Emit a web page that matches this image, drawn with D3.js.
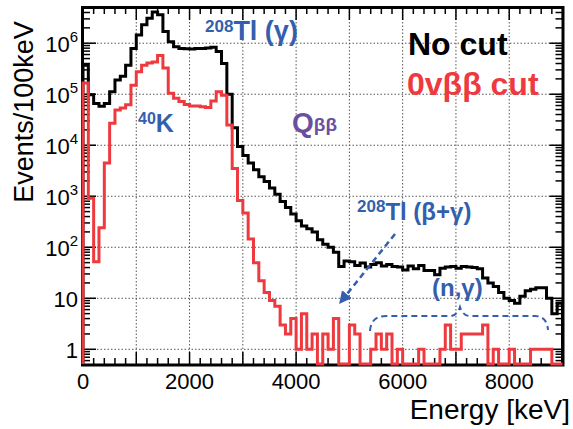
<!DOCTYPE html>
<html>
<head>
<meta charset="utf-8">
<script src="https://cdn.jsdelivr.net/npm/d3@7"></script>
<style>
  body { margin: 0; background: #fff; }
  svg { display: block; font-family: "Liberation Sans", Arial, sans-serif; }
</style>
</head>
<body>
<svg id="chart" width="573" height="429"></svg>
<script>
// histogram contents, 100 keV bins from 0 to 9000 keV
const binWidth = 100;
const noCut = [
  370000, 98000, 66000, 58000, 66000, 112000, 190000, 224000, 370000, 790000,
  1450000, 2300000, 3100000, 4100000, 3600000, 1700000, 1070000, 850000, 790000, 780000,
  770000, 790000, 790000, 810000, 830000, 690000, 400000, 100000, 22000, 9500,
  6300, 4500, 3300, 2400, 1950, 1450, 1100, 790, 600, 450,
  330, 260, 230, 200, 140, 115, 100, 80, 42, 54,
  52, 44, 49, 41, 46, 50, 43, 46, 42, 41,
  36, 43, 38, 44, 35, 35, 29, 39, 41, 42,
  39, 42, 41, 40, 38, 25, 20, 17, 13, 10,
  9, 8, 11, 14, 15, 16, 16, 10, 5, 8
];
const bbCut = [
  166000, 910, 52, 240, 4500, 27000, 49000, 54000, 62000, 150000,
  275000, 370000, 410000, 430000, 575000, 325000, 105000, 83000, 72000, 63000,
  59000, 59000, 57000, 55000, 74000, 112000, 95000, 25000, 3500, 830,
  470, 145, 50, 22, 13, 9, 7, 3, 2, 4,
  1, 5, 1, 2, 0, 2, 1, 4, 0, 0,
  3, 2, 0, 0, 1, 2, 1, 2, 0, 1,
  0, 0, 0, 1, 0, 0, 0, 1, 3, 1,
  1, 2, 2, 2, 2, 3, 0, 1, 0, 0,
  1, 0, 0, 0, 1, 1, 1, 1, 0, 0
];
const xTickLabels = [0, 2000, 4000, 6000, 8000];
const yDecades = [1, 10, 100, 1e3, 1e4, 1e5, 1e6];
const yDecadeLabels = [["1", ""], ["10", ""], ["10", "2"], ["10", "3"], ["10", "4"], ["10", "5"], ["10", "6"]];

const svg = d3.select("#chart");
const L = 83, R = 562.5, T = 8, B = 364;
const yMin = 0.515, yMax = 4.9e6;
const x = d3.scaleLinear().domain([0, 9000]).range([L, R]);
const y = d3.scaleLog().domain([yMin, yMax]).range([B, T]);

const blue = "#335fae";
const red = "#ee3a3f";

// grid
const grid = svg.append("g").attr("stroke", "#555").attr("stroke-width", 1).attr("stroke-dasharray", "1.5,2");
grid.selectAll(".gx").data(d3.range(1000, 9000, 1000)).enter().append("line")
  .attr("x1", d => x(d)).attr("x2", d => x(d)).attr("y1", T).attr("y2", B);
grid.selectAll(".gy").data(yDecades).enter().append("line")
  .attr("x1", L).attr("x2", R).attr("y1", d => y(d)).attr("y2", d => y(d));

// frame
svg.append("rect").attr("x", L - 0.5).attr("y", T - 0.5).attr("width", R - L + 1).attr("height", B - T + 1.5)
  .attr("fill", "none").attr("stroke", "#000").attr("stroke-width", 3);

// ticks
const ticks = svg.append("g").attr("stroke", "#000").attr("stroke-width", 1.5);
const xMinor = d3.range(0, 9001, 200);
ticks.selectAll(".xb").data(xMinor).enter().append("line")
  .attr("x1", d => x(d)).attr("x2", d => x(d))
  .attr("y1", B).attr("y2", d => B - (d % 1000 === 0 ? 12 : 6));
ticks.selectAll(".xt").data(xMinor).enter().append("line")
  .attr("x1", d => x(d)).attr("x2", d => x(d))
  .attr("y1", T).attr("y2", d => T + (d % 1000 === 0 ? 12 : 6));

const yMinor = [];
[0.1, 1, 10, 100, 1e3, 1e4, 1e5, 1e6].forEach(dec => {
  for (let k = 2; k <= 9; k++) {
    const v = k * dec;
    if (v > yMin && v < yMax) yMinor.push(v);
  }
});
ticks.selectAll(".yl").data(yMinor).enter().append("line")
  .attr("x1", L).attr("x2", L + 7).attr("y1", d => y(d)).attr("y2", d => y(d));
ticks.selectAll(".yr").data(yMinor).enter().append("line")
  .attr("x1", R).attr("x2", R - 7).attr("y1", d => y(d)).attr("y2", d => y(d));
ticks.selectAll(".ylM").data(yDecades).enter().append("line")
  .attr("x1", L).attr("x2", L + 13).attr("y1", d => y(d)).attr("y2", d => y(d));
ticks.selectAll(".yrM").data(yDecades).enter().append("line")
  .attr("x1", R).attr("x2", R - 13).attr("y1", d => y(d)).attr("y2", d => y(d));

// histograms
function histPoints(vals) {
  const pts = [[0, yMin]];
  vals.forEach((v, i) => pts.push([i * binWidth, Math.max(v, yMin)]));
  pts.push([vals.length * binWidth, Math.max(vals[vals.length - 1], yMin)]);
  pts.push([vals.length * binWidth, yMin]);
  return pts;
}
const step = d3.line().x(d => x(d[0])).y(d => y(d[1])).curve(d3.curveStepAfter);

svg.append("path").attr("d", step(histPoints(noCut)))
  .attr("fill", "none").attr("stroke", "#000").attr("stroke-width", 3);
svg.append("path").attr("d", step(histPoints(bbCut)))
  .attr("fill", "none").attr("stroke", red).attr("stroke-width", 3);

// axis labels
svg.selectAll(".xl").data(xTickLabels).enter().append("text")
  .attr("x", d => x(d)).attr("y", 389).attr("text-anchor", "middle")
  .attr("font-size", 22).text(d => d);

const yl = svg.selectAll(".ylab").data(yDecades).enter().append("text")
  .attr("x", 78).attr("y", d => y(d) + 9).attr("text-anchor", "end").attr("font-size", 22);
yl.append("tspan").text((d, i) => yDecadeLabels[i][0]);
yl.append("tspan").attr("font-size", 15).attr("dy", -10).text((d, i) => yDecadeLabels[i][1]);

svg.append("text").attr("x", 570).attr("y", 419).attr("text-anchor", "end")
  .attr("font-size", 28).text("Energy [keV]");
svg.append("text").attr("transform", "translate(33,112) rotate(-90)").attr("text-anchor", "middle")
  .attr("font-size", 27).text("Events/100keV");

// legend text
svg.append("text").attr("x", 408).attr("y", 55).attr("font-size", 32).attr("font-weight", "bold")
  .attr("fill", "#000").text("No cut");
svg.append("text").attr("x", 407).attr("y", 95).attr("font-size", 32).attr("font-weight", "bold")
  .attr("fill", red).text("0vββ cut");

// annotations
function isotope(xp, yp, mass, rest, size, supSize) {
  const t = svg.append("text").attr("x", xp).attr("y", yp).attr("font-weight", "bold").attr("fill", blue);
  t.append("tspan").attr("font-size", supSize).attr("dy", -8).text(mass);
  t.append("tspan").attr("font-size", size).attr("dy", 8).text(rest);
}
isotope(205, 40, "208", "Tl (γ)", 27, 17);
isotope(357, 220, "208", "Tl (β+γ)", 24, 17);
isotope(138, 132, "40", "K", 25, 16);

const q = svg.append("text").attr("x", 292).attr("y", 132).attr("font-weight", "bold").attr("fill", "#6a4f9e");
q.append("tspan").attr("font-size", 28).text("Q");
q.append("tspan").attr("font-size", 19).attr("dy", -1).text("ββ");

svg.append("text").attr("x", 432).attr("y", 296).attr("font-size", 24).attr("font-weight", "bold")
  .attr("fill", blue).text("(n,γ)");

// dashed arrow towards the tail
svg.append("defs").append("marker").attr("id", "head").attr("viewBox", "0 0 10 10")
  .attr("refX", 5).attr("refY", 5).attr("markerWidth", 5).attr("markerHeight", 5)
  .attr("orient", "auto").append("path").attr("d", "M0,0 L10,5 L0,10 Z").attr("fill", blue);
svg.append("line").attr("x1", 395).attr("y1", 234).attr("x2", 343).attr("y2", 299)
  .attr("stroke", blue).attr("stroke-width", 2.5).attr("stroke-dasharray", "6,4")
  .attr("marker-end", "url(#head)");

// dashed brace for (n,γ)
svg.append("path")
  .attr("d", "M370,331 Q371,316 386,316 L450,316 Q457,316 460,307 Q463,316 470,316 L535,316 Q547,316 548,330")
  .attr("fill", "none").attr("stroke", blue).attr("stroke-width", 2).attr("stroke-dasharray", "6,4");
</script>
</body>
</html>
